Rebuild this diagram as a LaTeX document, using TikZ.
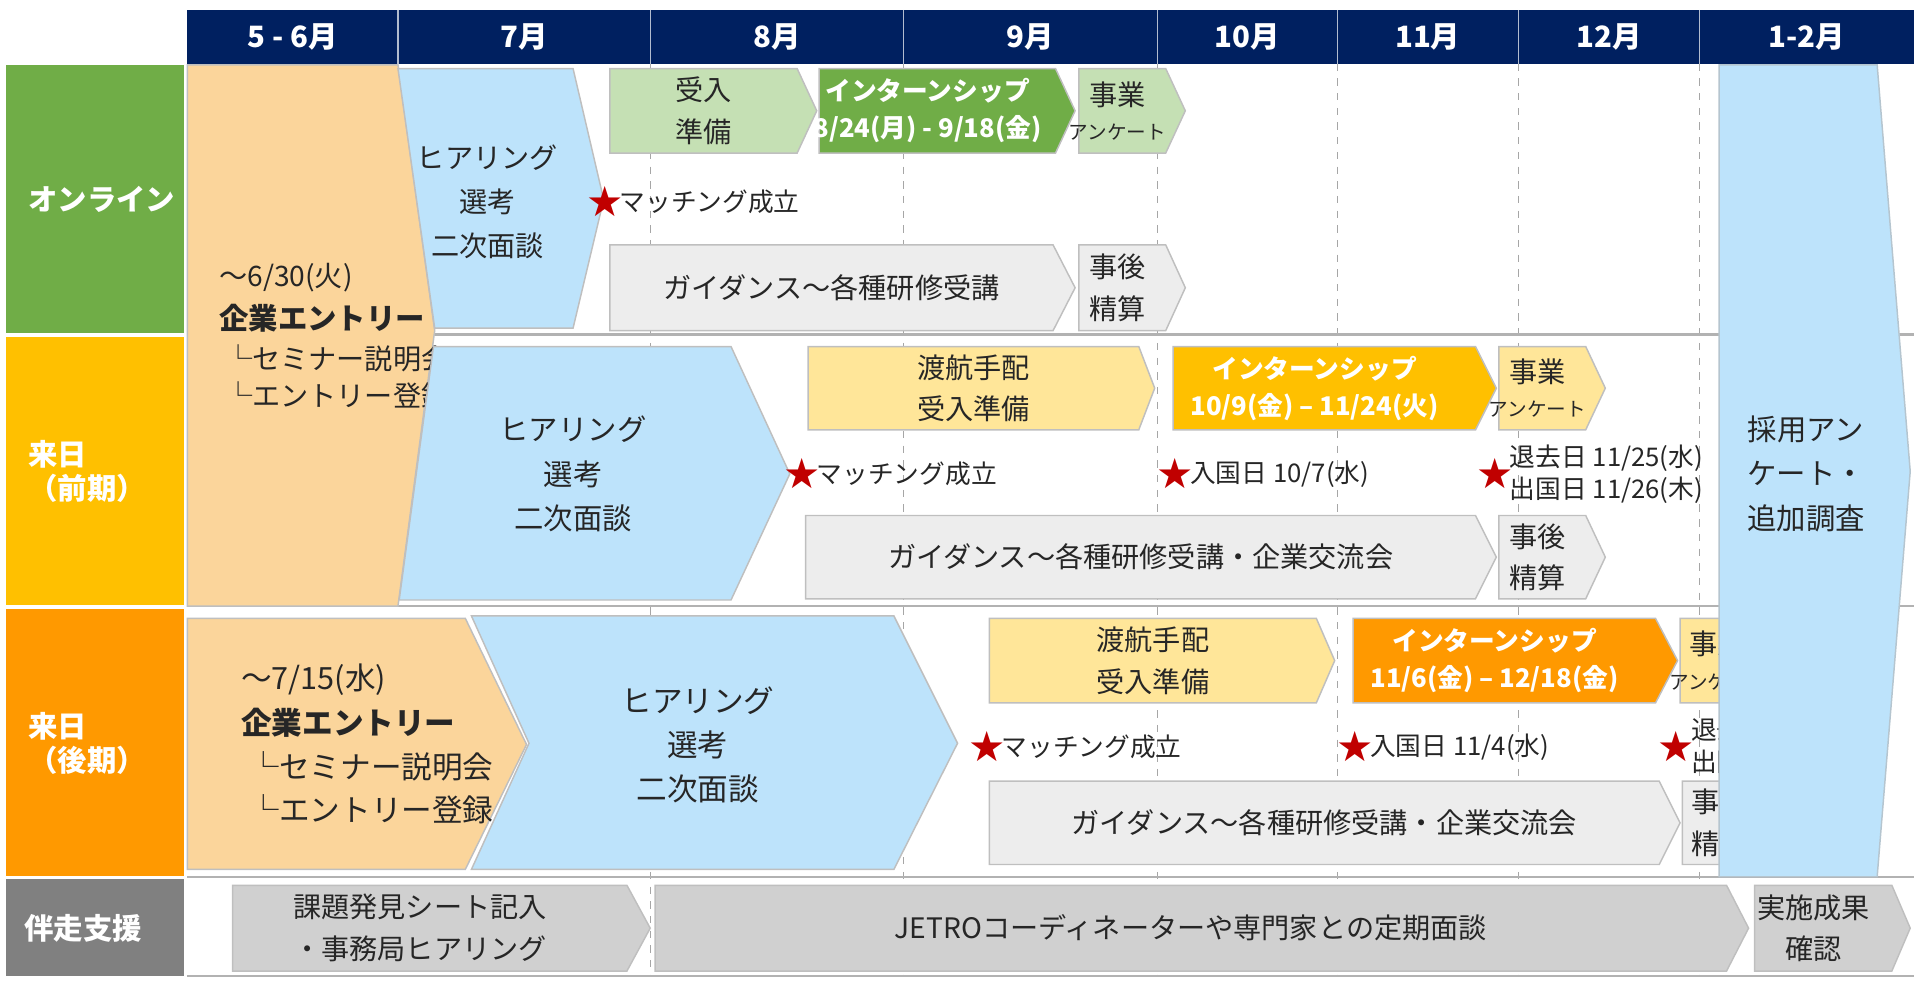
\documentclass[tikz,border=0pt]{standalone}
\usepackage{fontspec}
\setmainfont{Noto Sans CJK JP}
\newfontfamily\symf{DejaVu Sans}
\definecolor{navy}{HTML}{002060}
\definecolor{gOn}{HTML}{70AD47}
\definecolor{gLt}{HTML}{C5E0B4}
\definecolor{yMid}{HTML}{FFC000}
\definecolor{yLt}{HTML}{FFE699}
\definecolor{oMid}{HTML}{FF9900}
\definecolor{entry}{HTML}{FBD59B}
\definecolor{blu}{HTML}{BDE3FB}
\definecolor{gry}{HTML}{EDEDED}
\definecolor{gry2}{HTML}{D0D0D0}
\definecolor{txt}{HTML}{262626}
\definecolor{strc}{HTML}{C00000}
\newcommand\pent[7]{% name,x1,x2,y1,y2,tip,style
  \draw[#7] (#2,#4) -- (#3,#4) -- (#6,{(#4+#5)/2}) -- (#3,#5) -- (#2,#5) -- cycle;
  \coordinate (#1) at ({(#2+#3)/2},{(#4+#5)/2});}
\newcommand\mstar[3]{\node[star] (#1) at (#2) {★};\node[anchor=west,lbl] at ([xshift=-2]#1.east) {#3};}
\begin{document}
\begin{tikzpicture}[x=0.5pt,y=-0.5pt,
  shp/.style={draw=black!25,line width=0.6pt},
  lbl/.style={font=\fontsize{10.5}{13}\selectfont,text=txt,inner sep=0pt},
  t/.style={font=\fontsize{11.5}{17}\selectfont,text=txt,align=center},
  tw/.style={font=\fontsize{10.5}{15}\selectfont\bfseries,text=white,align=center},
  hd/.style={font=\fontsize{12}{14}\selectfont\bfseries,text=white},
  star/.style={font=\symf\fontsize{17}{17}\selectfont,text=strc,inner sep=0pt},
  ank/.style={font=\fontsize{11.5}{17}\selectfont,text=txt,align=center}]
\useasboundingbox (0,0) rectangle (1568,802);
% header
\fill[navy] (153,8) rectangle (1563,52);
\foreach \a/\b/\l [count=\i] in {153/325/5 - 6月,325/531/7月,531/738/8月,738/945/9月,945/1092/10月,1092/1240/11月,1240/1388/12月,1388/1563/1-2月}
  \node[hd] (h\i) at ({(\a+\b)/2},30) {\l};
\foreach \x in {325,531,738,945,1092,1240,1388} \draw[white!70!navy,line width=0.5pt] (\x,8)--(\x,52);
% grid
\foreach \x in {531,738,945,1092,1240,1388} \draw[black!35,dashed,line width=0.4pt] (\x,52)--(\x,797);
\foreach \y in {273,495,716,797} \draw[black!30,line width=1pt] (153,\y)--(1563,\y);
% row labels
\fill[gOn] (5,53) rectangle (150,272);
\fill[yMid] (5,275) rectangle (150,494);
\fill[oMid] (5,497) rectangle (150,715);
\fill[black!50] (5,718) rectangle (150,797);
\node[hd,anchor=west] (r1) at (16,163) {オンライン};
\node[hd,align=left,anchor=west] (r2) at (16,385) {来日\\（前期）};
\node[hd,align=left,anchor=west] (r3) at (16,607) {来日\\（後期）};
\node[hd] (r4) at (68,758) {伴走支援};
% entries
\draw[shp,fill=entry] (153,53)--(325,53)--(355,270)--(325,495)--(153,495)--cycle;
\node[t,anchor=west] (e1a) at (172,227) {〜6/30(火)};
\node[t,anchor=west,font=\fontsize{12}{14}\selectfont\bfseries] (e1b) at (172,260) {企業エントリー};
\node[t,anchor=west] (e1c) at (176,293) {└セミナー説明会};
\node[t,anchor=west] (e1d) at (176,323) {└エントリー登録};
\draw[shp,fill=entry] (153,505)--(380,505)--(430,608)--(380,710)--(153,710)--cycle;
\node[t,anchor=west,font=\fontsize{12.5}{14}\selectfont] (e2a) at (190,555) {〜7/15(水)};
\node[t,anchor=west,font=\fontsize{12.5}{14}\selectfont\bfseries] (e2b) at (190,590) {企業エントリー};
\node[t,anchor=west,font=\fontsize{12.5}{14}\selectfont] (e2c) at (196,626) {└セミナー説明会};
\node[t,anchor=west,font=\fontsize{12.5}{14}\selectfont] (e2d) at (196,661) {└エントリー登録};
% hearings
\draw[shp,fill=blu] (325,56)--(468,56)--(493,163)--(468,268)--(355,268)--cycle;
\node[t,font=\fontsize{11.5}{18}\selectfont] (hr1) at (398,165) {ヒアリング\\選考\\二次面談};
\draw[shp,fill=blu] (354,283)--(597,283)--(645,387)--(597,490)--(326,490)--cycle;
\node[t,font=\fontsize{12}{18}\selectfont] (hr2) at (468,387) {ヒアリング\\選考\\二次面談};
\draw[shp,fill=blu] (385,503)--(730,503)--(782,607)--(730,710)--(385,710)--(432,607)--cycle;
\node[t,font=\fontsize{12.5}{18}\selectfont] (hr3) at (570,608) {ヒアリング\\選考\\二次面談};
% online row
\pent{a1}{498}{651}{56}{125}{667}{shp,fill=gLt}\node[t] at (a1) {受入\\準備};
\pent{a2}{669}{862}{56}{125}{878}{shp,fill=gOn}\node[tw] at ([xshift=-4]a2) {インターンシップ\\8/24(月) - 9/18(金)};
\pent{a3}{881}{952}{56}{125}{968}{shp,fill=gLt}\node[t] at ([xshift=-2]a3) {事業\\[-3pt]{\fontsize{8}{9}\selectfont アンケート}};
\mstar{s1}{494,165}{マッチング成立}
\pent{a4}{498}{860}{200}{270}{878}{shp,fill=gry}\node[t] at (a4) {ガイダンス〜各種研修受講};
\pent{a5}{881}{952}{200}{270}{968}{shp,fill=gry}\node[t] at ([xshift=-2]a5) {事後\\精算};
% zenki
\pent{b1}{660}{930}{283}{351}{943}{shp,fill=yLt}\node[t] at (b1) {渡航手配\\受入準備};
\pent{b2}{958}{1205}{283}{351}{1222}{shp,fill=yMid}\node[tw] at ([xshift=-4]b2) {インターンシップ\\10/9(金) – 11/24(火)};
\pent{b3}{1224}{1295}{283}{351}{1311}{shp,fill=yLt}\node[t] at ([xshift=-2]b3) {事業\\[-3pt]{\fontsize{8}{9}\selectfont アンケート}};
\mstar{s2}{655,387}{マッチング成立}
\mstar{s3}{960,387}{入国日 10/7(水)}
\node[star] (s4) at (1221,387) {★};
\node[lbl,anchor=west,align=left] at ([xshift=-2]s4.east) {退去日 11/25(水)\\出国日 11/26(木)};
\pent{b4}{658}{1205}{421}{489}{1222}{shp,fill=gry}\node[t] at (b4) {ガイダンス〜各種研修受講・企業交流会};
\pent{b5}{1224}{1295}{421}{489}{1311}{shp,fill=gry}\node[t] at ([xshift=-2]b5) {事後\\精算};
% kouki
\pent{c1}{808}{1075}{505}{574}{1090}{shp,fill=yLt}\node[t] at (c1) {渡航手配\\受入準備};
\pent{c2}{1105}{1352}{505}{574}{1370}{shp,fill=oMid}\node[tw] at ([xshift=-4]c2) {インターンシップ\\11/6(金) – 12/18(金)};
\pent{c3}{1372}{1442}{505}{574}{1458}{shp,fill=yLt}\node[t] at ([xshift=-2]c3) {事業\\[-3pt]{\fontsize{8}{9}\selectfont アンケート}};
\mstar{s5}{806,610}{マッチング成立}
\mstar{s6}{1107,610}{入国日 11/4(水)}
\node[star] (s7) at (1369,610) {★};
\node[lbl,anchor=west,align=left] at ([xshift=-2]s7.east) {退去日 12/19(土)\\出国日 12/20(日)};
\pent{c4}{808}{1355}{638}{706}{1372}{shp,fill=gry}\node[t] at (c4) {ガイダンス〜各種研修受講・企業交流会};
\pent{c5}{1374}{1442}{638}{706}{1460}{shp,fill=gry}\node[t] at ([xshift=-2]c5) {事後\\精算};
% big arrow
\draw[draw=blu!70!black!60,fill=blu,line width=0.6pt] (1404,53)--(1533,53)--(1560,385)--(1533,716)--(1404,716)--cycle;
\node[t,font=\fontsize{12}{18}\selectfont] (big) at (1475,387) {採用アン\\ケート・\\追加調査};
% support
\pent{d1}{190}{512}{723}{793}{531}{shp,fill=gry2}\node[t] at ([xshift=-4]d1) {課題発見シート記入\\・事務局ヒアリング};
\pent{d2}{535}{1410}{723}{793}{1428}{shp,fill=gry2}\node[t] at (d2) {JETROコーディネーターや専門家との定期面談};
\pent{d3}{1433}{1545}{723}{793}{1560}{shp,fill=gry2}\node[t] at ([xshift=-4]d3) {実施成果\\確認};
\end{tikzpicture}
\end{document}
